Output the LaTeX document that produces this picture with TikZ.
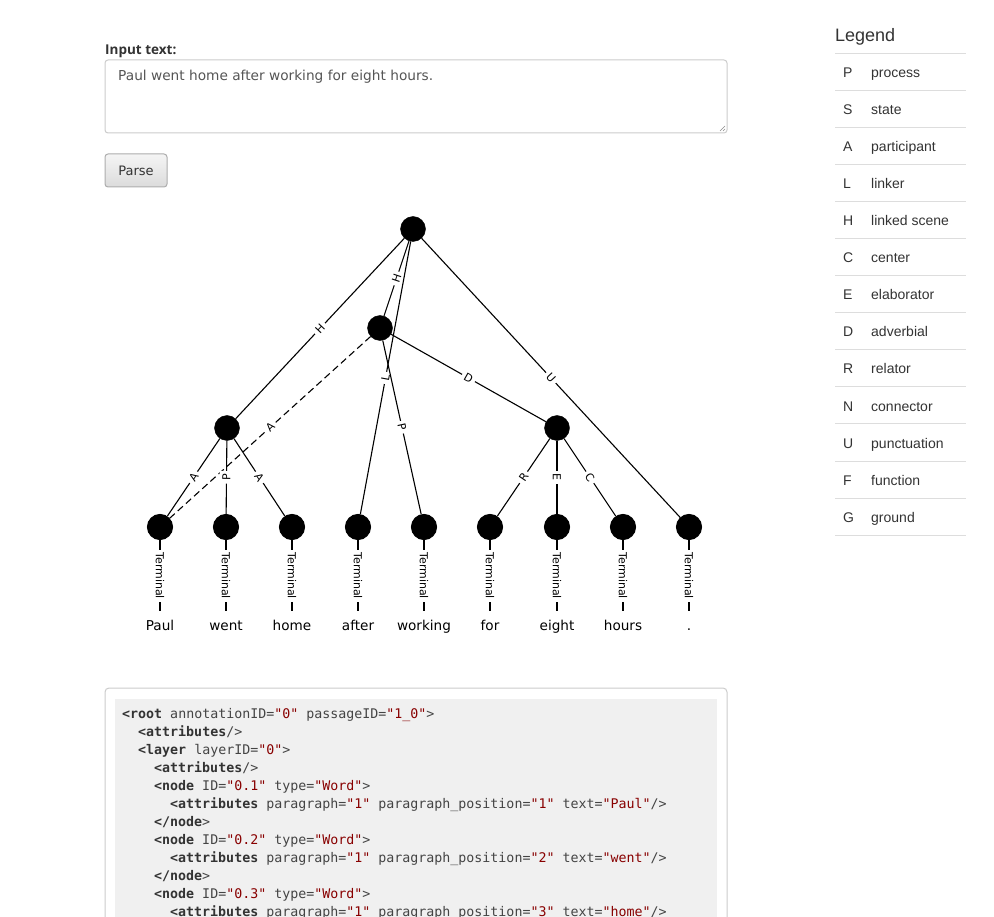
\documentclass[tikz,border=0pt]{standalone}
\usepackage{fontspec}
\setmainfont{DejaVu Sans}
\newfontfamily\labelfont{Open Sans}
\newfontfamily\legendfont{Liberation Sans}
\newfontfamily\codefont{DejaVu Sans Mono}[Ligatures=TeXOff]

\definecolor{textdark}{HTML}{333333}
\definecolor{textmid}{HTML}{555555}
\definecolor{fieldline}{HTML}{CCCCCC}
\definecolor{ruleline}{HTML}{DDDDDD}
\definecolor{buttonline}{HTML}{ADADAD}
\definecolor{codebg}{HTML}{F0F0F0}
\definecolor{codestr}{HTML}{880000}
\definecolor{codeattr}{HTML}{444444}

\newcommand\fsz[1]{\fontsize{#1}{#1}\selectfont}
\newcommand\xtag[1]{\textbf{\color{textdark}#1}}
\newcommand\xval[1]{{\color{codestr}#1}}

\tikzset{
	unit/.style={
		draw
		,circle
		,fill=black
		,inner sep=0pt
		,minimum size=25pt
	}
	,link/.style={line width=1.1pt}
	,elabel/.style={
		midway
		,sloped
		,fill=white
		,inner sep=3pt
		,font=\fsz{11}
	}
	,word/.style={
		anchor=base
		,inner xsep=0pt
		,inner ysep=8pt
		,text height=10pt
		,text depth=3pt
		,font=\fsz{13.6}
	}
}
\tikzset{
	formlabel/.style={anchor=base west, inner sep=0pt, text=textdark, font=\labelfont\bfseries\fsz{13.5}}
	,field/.style={draw=fieldline, line width=1pt, rounded corners=3pt}
	,inputtext/.style={anchor=base west, inner sep=0pt, text=textmid, font=\fsz{13.7}}
	,button/.style={
		draw=buttonline
		,line width=1pt
		,rounded corners=3pt
		,top color=white!96!black
		,bottom color=white!86!black
		,minimum width=62pt
		,minimum height=33pt
		,text=textdark
		,font=\fsz{13}
	}
	,legtitle/.style={anchor=base west, inner sep=0pt, text=textdark, font=\legendfont\fsz{18}}
	,legkey/.style={anchor=base west, inner sep=0pt, text=textdark, font=\legendfont\fsz{14}}
	,legrule/.style={draw=ruleline, line width=1pt}
	,codeline/.style={anchor=base west, inner sep=0pt, text=codeattr, font=\codefont\fsz{13.3}}
}

\begin{document}
\begin{tikzpicture}[x=1pt, y=-1pt]
\useasboundingbox[fill=white] (0,0) rectangle (994,917);
\clip (0,0) rectangle (994,917);

% input form
\node[formlabel] (inlabel) at (105,55) {Input text:};
\node[field, minimum width=622pt, minimum height=73pt] (input) at (416,96.5) {};
\node[inputtext] (intext) at (118,81) {Paul went home after working for eight hours.};
\draw[draw=black!45, line width=0.6pt] (720,131) -- (725,126) (723,131) -- (725,129);
\node[button] (parse) at (136,170.5) {Parse};

% legend
\node[legtitle] (legend) at (835,42) {Legend};
\draw[legrule] (835,54) -- (966,54);
\foreach \k/\n [count=\i from 0] in {P/process,S/state,A/participant,L/linker,H/linked scene,C/center,E/elaborator,D/adverbial,R/relator,N/connector,U/punctuation,F/function,G/ground}{
	\node[legkey] (key\i) at (843,78+37*\i) {\k};
	\node[legkey] (name\i) at (871,78+37*\i) {\n};
	\draw[legrule] (835,91+37*\i) -- (966,91+37*\i);
}

% passage tree
\node[unit] (root) at (413,229) {};
\node[unit] (mid) at (380,328) {};
\node[unit] (left) at (227,428) {};
\node[unit] (right) at (557,428) {};
\begin{scope}[link]
\foreach \x/\w [count=\i] in {160/Paul,226/went,292/home,358/after,424/working,490/for,557/eight,623/hours,689/.}{
	\node[unit] (t\i) at (\x,527) {};
	\node[word] (w\i) at (\x,630) {\w};
	\draw (t\i) -- node[elabel]{Terminal} (w\i);
}
\draw (root) -- node[elabel]{H} (left);
\draw (root) -- node[elabel]{H} (mid);
\draw (root) -- node[elabel]{L} (t4);
\draw (root) -- node[elabel]{U} (t9);
\draw (mid) -- node[elabel]{D} (right);
\draw (mid) -- node[elabel]{P} (t5);
\draw[dash pattern=on 7pt off 4pt] (mid) -- node[elabel]{A} (t1);
\draw (left) -- node[elabel]{A} (t1);
\draw (left) -- node[elabel]{P} (t2);
\draw (left) -- node[elabel]{A} (t3);
\draw (right) -- node[elabel]{R} (t6);
\draw (right) -- node[elabel]{E} (t7);
\draw (right) -- node[elabel]{C} (t8);
\end{scope}

% xml output
\draw[field, rounded corners=4pt] (105,688) rectangle (727,940);
\fill[codebg] (115,699) rectangle (717,940);
\node[codeline] (c1) at (122,718) {\xtag{<root} annotationID=\xval{"0"} passageID=\xval{"1\_0"}>};
\node[codeline] (c2) at (138,736) {\xtag{<attributes}/>};
\node[codeline] (c3) at (138,754) {\xtag{<layer} layerID=\xval{"0"}>};
\node[codeline] (c4) at (154,772) {\xtag{<attributes}/>};
\node[codeline] (c5) at (154,790) {\xtag{<node} ID=\xval{"0.1"} type=\xval{"Word"}>};
\node[codeline] (c6) at (170,808) {\xtag{<attributes} paragraph=\xval{"1"} paragraph\_position=\xval{"1"} text=\xval{"Paul"}/>};
\node[codeline] (c7) at (154,826) {\xtag{</node}>};
\node[codeline] (c8) at (154,844) {\xtag{<node} ID=\xval{"0.2"} type=\xval{"Word"}>};
\node[codeline] (c9) at (170,862) {\xtag{<attributes} paragraph=\xval{"1"} paragraph\_position=\xval{"2"} text=\xval{"went"}/>};
\node[codeline] (c10) at (154,880) {\xtag{</node}>};
\node[codeline] (c11) at (154,898) {\xtag{<node} ID=\xval{"0.3"} type=\xval{"Word"}>};
\node[codeline] (c12) at (170,916) {\xtag{<attributes} paragraph=\xval{"1"} paragraph\_position=\xval{"3"} text=\xval{"home"}/>};
\end{tikzpicture}
\end{document}
